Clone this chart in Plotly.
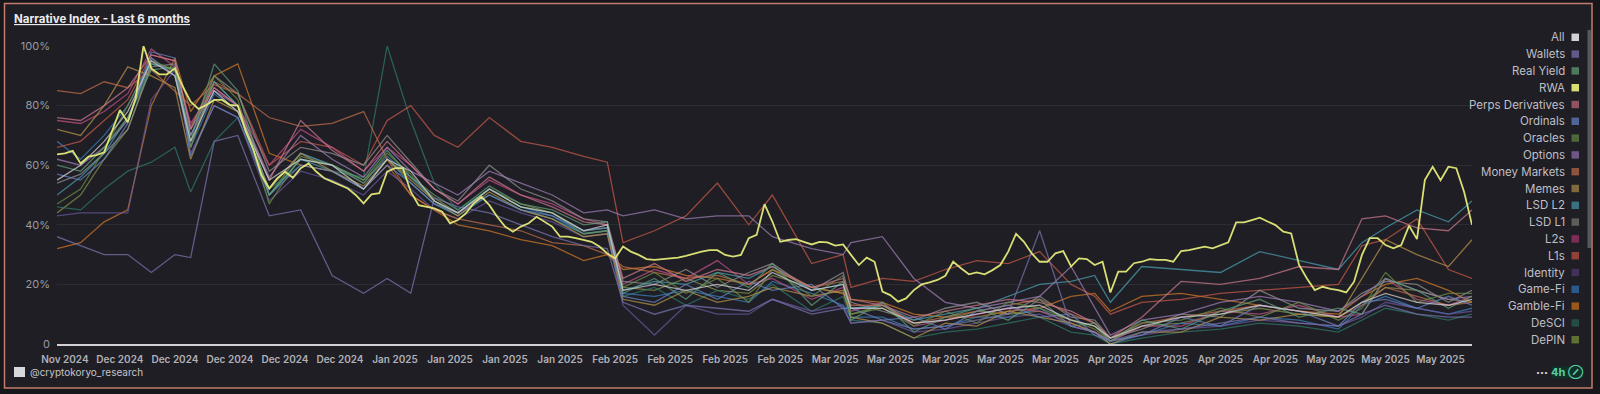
import datetime as dt
import plotly.graph_objects as go

# ---------------- data ----------------
START = dt.date(2024, 11, 23)

# RWA: daily values (day 0 .. 180)
rwa = [63.6, 64.0, 64.8, 60.6, 62.9, 63.4, 64.3, 71.3, 78.5, 74.4,
       82.4, 100, 92.5, 90.5, 90.5, 92.5, 86.4, 81.3, 78.9, 80.2,
       81.9, 81.9, 80.2, 80.0, 71.3, 65.1, 56.7, 52.2, 55.6, 57.8,
       55.8, 59.0, 60.6, 57.8, 55.6, 54.5, 53.4, 52.2, 50.0, 47.2,
       50.2, 50.6, 57.8, 59.0, 59.0,
       51.1, 46.6, 46.1, 45.5, 44.4, 40.5, 41.6, 43.8, 47.2, 49.4,
       46.6, 42.7, 39.4, 37.7, 39.4, 40.5, 42.7, 41.1, 39.4, 36.0,
       36.0, 35.5, 34.9, 34.3, 32.7, 30.4, 28.7, 32.7, 31.0, 29.9,
       28.5, 28.2, 28.5, 28.7, 29.0, 29.6, 30.4, 31.0, 31.5, 31.5,
       29.9, 29.3, 29.9, 35.5,
       36.6, 46.9, 41.1, 34.3, 34.9, 35.2, 34.3, 33.4, 34.3, 34.1,
       33.0, 33.4, 29.9, 26.5, 29.0, 27.6, 17.6, 16.4, 14.2, 15.3,
       18.1, 20.0, 20.7, 21.5, 22.9, 27.6, 25.4, 23.4, 24.0, 23.4,
       24.8, 26.5, 31.0, 37.0, 34.3, 30.4, 27.6, 27.6, 30.4, 31.2,
       26.0, 28.7, 28.5, 26.5,
       27.6, 17.3, 24.3, 24.3, 27.1, 27.6, 28.5, 28.2, 28.2, 27.6,
       31.2, 31.5, 32.1, 32.7, 32.1, 33.2, 34.1, 40.8, 40.8, 41.6,
       42.4, 41.1, 39.9, 37.7, 37.1, 26.5, 22.0, 18.1, 19.2, 18.5,
       18.1, 17.3, 20.9, 29.9, 35.5, 35.5, 33.2, 32.1, 33.2, 39.7,
       35.2, 55.0, 59.5, 55.0, 59.5,
       59.0, 51.0, 40.0]

# sampled days for the other narratives
sample_days = [0, 3, 6, 9, 12, 15, 17, 20, 23, 27, 31, 35, 39, 42, 45, 48, 51, 55, 59, 63,
               67, 70, 72, 76, 80, 84, 88, 91, 96, 100, 101, 105, 109, 113, 117, 121, 125, 129, 132, 134,
               138, 143, 148, 153, 158, 163, 166, 169, 173, 177, 180]

all_idx = [55, 60, 68, 78, 95, 90, 68, 85, 78, 55, 62, 60, 52, 62, 58, 48, 44, 52, 46, 44,
           38, 40, 18, 20, 18, 20, 18, 24, 18, 20, 12, 12, 7, 8, 10, 12, 13, 8, 6, 2,
           6, 9, 10, 13, 11, 9, 14, 17, 14, 13, 15]
wallets = [36, 33, 30, 30, 24, 30, 29, 68, 70, 43, 45, 23, 17, 22, 17, 49, 46, 44, 40, 36,
           33, 32, 14, 10, 13, 12, 11, 15, 10, 12, 7, 8, 5, 6, 8, 10, 38, 6, 4, 1,
           4, 5, 7, 9, 7, 6, 10, 13, 10, 9, 9]
real_yield = [60, 58, 66, 76, 92, 93, 68, 94, 85, 50, 62, 60, 55, 65, 56, 50, 45, 53, 47, 45,
              40, 41, 17, 22, 15, 24, 19, 27, 13, 21, 8, 14, 4, 9, 12, 8, 15, 6, 7, 1,
              8, 5, 11, 15, 9, 12, 10, 22, 18, 12, 16]
perps = [76, 75, 80, 86, 97, 95, 72, 86, 80, 55, 75, 65, 58, 68, 60, 52, 47, 56, 50, 46,
         41, 40, 22, 27, 21, 25, 23, 26, 19, 22, 15, 13, 9, 11, 13, 15, 14, 11, 7, 2,
         9, 21, 20, 22, 26, 25, 42, 43, 39, 38, 45]
ordinals = [57, 55, 62, 74, 98, 96, 63, 80, 76, 50, 60, 58, 52, 60, 54, 47, 44, 50, 45, 43,
            38, 39, 16, 14, 20, 15, 21, 18, 20, 12, 12, 8, 9, 5, 11, 13, 9, 10, 3, 1,
            3, 9, 6, 13, 11, 6, 14, 15, 12, 16, 13]
oracles = [47, 52, 65, 80, 95, 92, 66, 90, 82, 47, 63, 60, 54, 64, 57, 48, 44, 52, 46, 44,
           37, 38, 19, 24, 17, 22, 14, 25, 16, 23, 10, 12, 6, 11, 7, 14, 12, 8, 5, 1,
           7, 8, 12, 9, 14, 8, 12, 24, 14, 17, 17]
options = [62, 60, 66, 75, 96, 90, 70, 85, 80, 56, 70, 62, 56, 66, 58, 54, 50, 58, 54, 50,
           44, 45, 43, 45, 42, 43, 43, 36, 32, 30, 34, 36, 22, 14, 12, 14, 16, 26, 12, 3,
           8, 10, 14, 16, 14, 11, 16, 22, 18, 15, 16]
money_markets = [85, 84, 88, 86, 92, 85, 80, 87, 84, 76, 73, 74, 78, 62, 50, 45, 42, 40, 38, 34,
                 33, 30, 26, 24, 22, 23, 20, 25, 19, 21, 13, 13, 7, 9, 11, 13, 15, 10, 7, 2,
                 7, 9, 11, 13, 11, 9, 13, 19, 16, 13, 14]
memes = [72, 70, 80, 93, 90, 86, 62, 82, 78, 52, 64, 58, 53, 62, 55, 48, 43, 51, 45, 42,
         36, 37, 15, 13, 18, 14, 16, 19, 16, 18, 9, 7, 2, 7, 6, 11, 9, 7, 4, 0,
         4, 4, 9, 8, 10, 9, 22, 35, 30, 26, 35]
lsd_l2 = [50, 56, 64, 76, 94, 92, 70, 88, 80, 50, 62, 58, 52, 62, 54, 47, 43, 50, 45, 42,
          37, 38, 18, 21, 20, 24, 22, 26, 18, 20, 12, 13, 8, 10, 12, 16, 20, 21, 23, 14,
          26, 25, 24, 31, 28, 25, 34, 39, 45, 41, 48]
lsd_l1 = [54, 57, 64, 72, 93, 94, 72, 90, 84, 58, 66, 64, 60, 70, 61, 52, 48, 60, 52, 48,
          42, 41, 21, 20, 25, 19, 24, 27, 18, 24, 14, 11, 8, 12, 14, 10, 16, 9, 8, 2,
          5, 10, 9, 18, 12, 11, 17, 21, 20, 14, 18]
l2s = [75, 74, 78, 84, 99, 93, 74, 86, 80, 60, 72, 66, 58, 66, 60, 52, 47, 55, 50, 47,
       42, 40, 20, 25, 22, 28, 20, 22, 15, 19, 11, 14, 6, 8, 10, 12, 11, 7, 4, 1,
       6, 6, 11, 10, 13, 9, 10, 22, 15, 13, 16]
l1s = [66, 68, 75, 82, 97, 95, 73, 88, 84, 60, 68, 66, 60, 75, 80, 70, 66, 76, 68, 66,
       63, 61, 34, 38, 43, 54, 40, 50, 27, 30, 19, 22, 21, 25, 28, 27, 31, 20, 16, 10,
       14, 15, 17, 18, 19, 20, 33, 35, 42, 25, 22]
identity = [43, 44, 44, 44, 82, 92, 64, 80, 76, 48, 58, 55, 50, 58, 52, 45, 42, 48, 44, 41,
            36, 37, 13, 3, 13, 10, 10, 15, 11, 13, 7, 8, 4, 5, 7, 9, 10, 6, 4, 1,
            3, 5, 6, 8, 7, 6, 9, 14, 12, 10, 11]
game_fi = [68, 62, 70, 80, 96, 90, 66, 84, 78, 52, 64, 60, 54, 63, 56, 48, 44, 52, 46, 43,
           37, 38, 17, 16, 18, 16, 14, 21, 17, 13, 9, 9, 5, 6, 9, 9, 12, 6, 4, 0,
           3, 7, 6, 9, 8, 5, 13, 16, 12, 10, 12]
gamble_fi = [32, 34, 41, 45, 80, 96, 78, 90, 94, 64, 60, 58, 52, 60, 50, 45, 40, 38, 35, 33,
             28, 30, 25, 26, 23, 22, 20, 25, 19, 17, 15, 14, 10, 9, 9, 11, 12, 16, 17, 11,
             16, 17, 15, 13, 11, 10, 16, 20, 22, 18, 14]
desci = [46, 45, 52, 58, 61, 66, 51, 68, 76, 52, 60, 58, 56, 100, 75, 54, 45, 52, 46, 44,
         38, 39, 16, 19, 13, 18, 15, 20, 11, 16, 8, 7, 2, 4, 5, 7, 9, 4, 3, 0,
         2, 4, 5, 7, 6, 4, 8, 12, 10, 8, 10]
depin = [44, 50, 62, 72, 94, 92, 66, 88, 80, 50, 64, 60, 55, 62, 56, 49, 44, 52, 47, 44,
         38, 39, 19, 18, 22, 18, 17, 23, 19, 17, 10, 13, 7, 8, 11, 10, 11, 8, 6, 1,
         6, 7, 10, 12, 10, 9, 14, 19, 18, 15, 14]

legend_names = ["All", "Wallets", "Real Yield", "RWA", "Perps Derivatives", "Ordinals", "Oracles",
                "Options", "Money Markets", "Memes", "LSD L2", "LSD L1", "L2s", "L1s", "Identity",
                "Game-Fi", "Gamble-Fi", "DeSCI", "DePIN"]
series_values = {
    "All": all_idx, "Wallets": wallets, "Real Yield": real_yield, "Perps Derivatives": perps,
    "Ordinals": ordinals, "Oracles": oracles, "Options": options, "Money Markets": money_markets,
    "Memes": memes, "LSD L2": lsd_l2, "LSD L1": lsd_l1, "L2s": l2s, "L1s": l1s,
    "Identity": identity, "Game-Fi": game_fi, "Gamble-Fi": gamble_fi, "DeSCI": desci, "DePIN": depin,
}

tick_dates = ["2024-11-24", "2024-12-01", "2024-12-08", "2024-12-15", "2024-12-22", "2024-12-29",
              "2025-01-05", "2025-01-12", "2025-01-19", "2025-01-26", "2025-02-02", "2025-02-09",
              "2025-02-16", "2025-02-23", "2025-03-02", "2025-03-09", "2025-03-16", "2025-03-23",
              "2025-03-30", "2025-04-06", "2025-04-13", "2025-04-20", "2025-04-27", "2025-05-04",
              "2025-05-11", "2025-05-18"]
tick_labels = ["Nov 2024"] + ["Dec 2024"] * 5 + ["Jan 2025"] * 4 + ["Feb 2025"] * 4 + \
              ["Mar 2025"] * 5 + ["Apr 2025"] * 4 + ["May 2025"] * 3
y_ticks = [0, 20, 40, 60, 80, 100]
y_tick_labels = ["0", "20%", "40%", "60%", "80%", "100%"]

# ---------------- styles ----------------
line_colors = {
    "All": "#d4d4dc", "Wallets": "#7a76b2", "Real Yield": "#5e9e78", "RWA": "#e4ea7a",
    "Perps Derivatives": "#cc7a8c", "Ordinals": "#6a84c0", "Oracles": "#6e8e48",
    "Options": "#a080b8", "Money Markets": "#c4704a", "Memes": "#b8954a", "LSD L2": "#4aa0b2",
    "LSD L1": "#929292", "L2s": "#c4508c", "L1s": "#c85a48", "Identity": "#6a58a0",
    "Game-Fi": "#3a80c0", "Gamble-Fi": "#d27a28", "DeSCI": "#2e7a6a", "DePIN": "#84944a",
}
swatch_colors = {
    "All": "#d2d2d6", "Wallets": "#5f5a8a", "Real Yield": "#4c7a5a", "RWA": "#d8de72",
    "Perps Derivatives": "#8e5262", "Ordinals": "#50649a", "Oracles": "#4e6638",
    "Options": "#6f5684", "Money Markets": "#8e5440", "Memes": "#7e6a3a", "LSD L2": "#3a7080",
    "LSD L1": "#5c5c5a", "L2s": "#7e2e56", "L1s": "#904238", "Identity": "#40325a",
    "Game-Fi": "#2a5a8a", "Gamble-Fi": "#98581c", "DeSCI": "#244c46", "DePIN": "#5e7034",
}

W, H = 1600, 394
PL, PR, PT, PB = 57, 1472, 46, 344  # plot area in pixels


def px(x):
    return (x - PL) / (PR - PL)


def py(y):
    return (PB - y) / (PB - PT)


def day_to_date(d):
    return START + dt.timedelta(days=d)


fig = go.Figure()
sample_dates = [day_to_date(d) for d in sample_days]
draw_order = ["DePIN", "DeSCI", "Gamble-Fi", "Game-Fi", "Identity", "L1s", "L2s", "LSD L1",
              "LSD L2", "Memes", "Money Markets", "Options", "Oracles", "Ordinals",
              "Perps Derivatives", "Real Yield", "Wallets", "All"]
for name in draw_order:
    fig.add_trace(go.Scatter(
        x=sample_dates, y=series_values[name], mode="lines", name=name,
        line=dict(color=line_colors[name], width=1.3), opacity=0.72,
        showlegend=False, hoverinfo="skip"))

fig.add_trace(go.Scatter(
    x=[day_to_date(i) for i in range(len(rwa))], y=rwa, mode="lines", name="RWA",
    line=dict(color=line_colors["RWA"], width=1.8), opacity=0.95,
    showlegend=False, hoverinfo="skip"))

shapes = []
annotations = []
# outer frame
shapes.append(dict(type="rect", xref="paper", yref="paper", layer="below",
                   x0=px(4.5), x1=px(1592), y0=py(388), y1=py(3.5),
                   line=dict(color="#c47c6c", width=1.5), fillcolor="#1f1e24"))
# legend
leg_font = dict(family="Inter, Noto Sans, sans-serif", size=11.5, color="#bfbfc6")
for i, name in enumerate(legend_names):
    yc = 37.3 + 16.8 * i
    annotations.append(dict(text=name, xref="paper", yref="paper", x=px(1567), y=py(yc),
                            xanchor="right", yanchor="middle", showarrow=False, font=leg_font))
    shapes.append(dict(type="rect", xref="paper", yref="paper", x0=px(1571.5), x1=px(1579),
                       y0=py(yc + 3.7), y1=py(yc - 3.7), line=dict(width=0),
                       fillcolor=swatch_colors[name]))
# legend scrollbar
shapes.append(dict(type="rect", xref="paper", yref="paper", x0=px(1587.5), x1=px(1591),
                   y0=py(248), y1=py(30), line=dict(width=0), fillcolor="#56565c"))
# title
annotations.append(dict(text="<b><u>Narrative Index - Last 6 months</u></b>", xref="paper",
                        yref="paper", x=px(11.5), y=py(19.5), xanchor="left", yanchor="middle",
                        showarrow=False,
                        font=dict(family="Inter, Noto Sans, sans-serif", size=11.5, color="#ececf0")))
# watermark
shapes.append(dict(type="rect", xref="paper", yref="paper", x0=px(14), x1=px(25),
                   y0=py(377), y1=py(367), line=dict(width=0), fillcolor="#d8d8dc"))
annotations.append(dict(text="@cryptokoryo_research", xref="paper", yref="paper",
                        x=px(28), y=py(372.5), xanchor="left", yanchor="middle", showarrow=False,
                        font=dict(family="Inter, Noto Sans, sans-serif", size=10, color="#c4c4ca")))
# bottom-right controls
annotations.append(dict(text="<b>···</b>", xref="paper", yref="paper", x=px(1542), y=py(372),
                        xanchor="center", yanchor="middle", showarrow=False,
                        font=dict(family="Inter, sans-serif", size=12, color="#e0e0e4")))
shapes.append(dict(type="rect", xref="paper", yref="paper", x0=px(1552), x1=px(1583),
                   y0=py(378.5), y1=py(366.5), line=dict(width=0), fillcolor="#10302a"))
annotations.append(dict(text="<b>4h ⊘</b>", xref="paper", yref="paper", x=px(1567.5), y=py(372.5),
                        xanchor="center", yanchor="middle", showarrow=False,
                        font=dict(family="Inter, DejaVu Sans, sans-serif", size=11, color="#5ad2a4")))

fig.update_layout(
    width=W, height=H,
    margin=dict(l=PL, r=W - PR, t=PT, b=H - PB),
    paper_bgcolor="#17161b", plot_bgcolor="rgba(0,0,0,0)",
    showlegend=False, hovermode=False,
    font=dict(family="Inter, Noto Sans, sans-serif", color="#a8a8b0"),
    shapes=shapes, annotations=annotations,
    xaxis=dict(type="date", range=[day_to_date(0), day_to_date(180)],
               tickvals=tick_dates, ticktext=tick_labels, tickangle=0,
               showgrid=False, zeroline=False, showline=True, linecolor="#cfcfd4", linewidth=2,
               ticks="", tickfont=dict(size=10, color="#b0b0b8", weight=600),
               ticklabelstandoff=5),
    yaxis=dict(range=[0, 100], tickvals=y_ticks, ticktext=y_tick_labels,
               showgrid=True, gridcolor="#2d2c33", gridwidth=1, zeroline=False,
               showline=False, ticks="", tickfont=dict(size=11, color="#9a9aa2"),
               ticklabelstandoff=6),
)

fig.write_html(
    "out.html", include_plotlyjs=True, config={"displayModeBar": False},
    post_script="document.body.style.margin='0';document.body.style.padding='0';"
                "document.body.style.background='#17161b';"
                "document.documentElement.style.background='#17161b';")
